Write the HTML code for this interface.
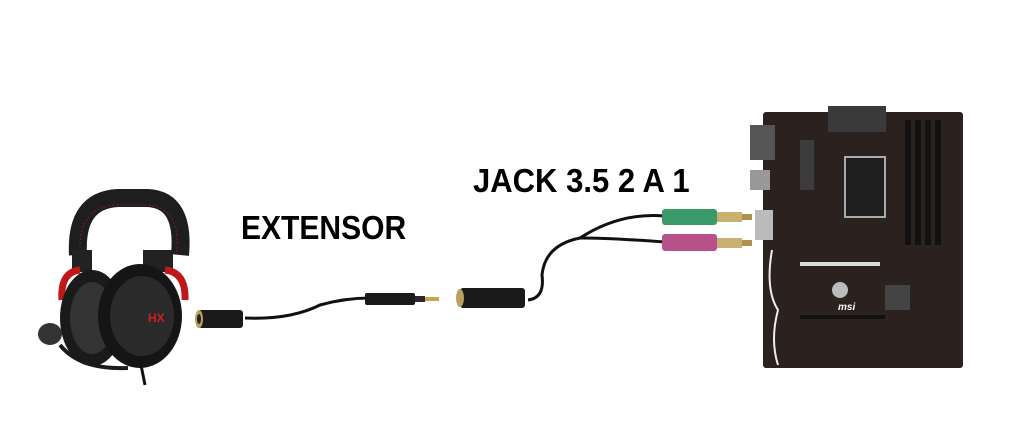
<!DOCTYPE html>
<html><head><style>
html,body{margin:0;padding:0;background:#fff;}
body{width:1012px;height:430px;overflow:hidden;position:relative;}
.t{position:absolute;font-family:"Liberation Sans",sans-serif;font-weight:bold;color:#000;transform-origin:left top;white-space:nowrap;}
</style></head><body>
<svg width="1012" height="430" style="position:absolute;left:0;top:0">
<!-- headphones -->
<g>
<path d="M78 255 Q75 200 118 198 L148 198 Q185 200 180 255" fill="none" stroke="#1e1e1e" stroke-width="18"/>
<path d="M80 252 Q78 206 118 205 L148 205 Q180 207 177 252" fill="none" stroke="#8b1a1a" stroke-width="1" stroke-dasharray="2 2"/>
<rect x="72" y="250" width="20" height="22" fill="#222"/>
<rect x="143" y="250" width="30" height="22" fill="#222"/>
<path d="M62 300 Q60 272 80 270" fill="none" stroke="#c01818" stroke-width="7"/>
<path d="M185 300 Q186 272 165 270" fill="none" stroke="#c01818" stroke-width="7"/>
<ellipse cx="92" cy="318" rx="32" ry="48" fill="#1a1a1a"/>
<ellipse cx="92" cy="318" rx="22" ry="36" fill="#333"/>
<ellipse cx="140" cy="316" rx="42" ry="52" fill="#151515"/>
<ellipse cx="142" cy="316" rx="32" ry="40" fill="#2a2a2a"/>
<text x="148" y="322" font-family="Liberation Sans,sans-serif" font-size="12" font-weight="bold" fill="#d02020">HX</text>
<path d="M60 345 Q80 370 128 368" fill="none" stroke="#1a1a1a" stroke-width="4"/>
<ellipse cx="50" cy="334" rx="12" ry="11" fill="#333"/>
<path d="M140 360 L145 385" stroke="#111" stroke-width="3"/>
</g>
<!-- extension cable -->
<path d="M245 318 Q290 320 320 305 Q345 298 370 298" fill="none" stroke="#111" stroke-width="3"/>
<rect x="198" y="310" width="45" height="18" rx="3" fill="#1a1a1a"/>
<ellipse cx="199" cy="319" rx="4" ry="9" fill="#b8a060"/>
<ellipse cx="199" cy="319" rx="2" ry="5" fill="#222"/>
<rect x="365" y="293" width="50" height="12" rx="2" fill="#1a1a1a"/>
<rect x="415" y="296" width="10" height="6" fill="#2a2a2a"/>
<rect x="425" y="297" width="14" height="4" fill="#c8a848"/>
<!-- adapter -->
<path d="M528 300 Q545 298 542 275 Q545 245 580 238 Q620 212 665 216" fill="none" stroke="#111" stroke-width="3"/>
<path d="M580 238 Q610 238 665 242" fill="none" stroke="#111" stroke-width="3"/>
<rect x="460" y="288" width="65" height="20" rx="3" fill="#1a1a1a"/>
<ellipse cx="460" cy="298" rx="4" ry="9" fill="#b8a060"/>
<rect x="662" y="209" width="55" height="16" rx="3" fill="#3a9a6a"/>
<rect x="717" y="212" width="25" height="10" fill="#c8b070"/>
<rect x="742" y="214" width="10" height="6" fill="#b09050"/>
<rect x="662" y="234" width="55" height="17" rx="3" fill="#b8508a"/>
<rect x="717" y="238" width="25" height="10" fill="#c8b070"/>
<rect x="742" y="240" width="10" height="6" fill="#b09050"/>
<!-- motherboard -->
<rect x="763" y="112" width="200" height="256" rx="3" fill="#2b2220"/>
<rect x="828" y="106" width="58" height="26" fill="#3a3a3a"/>
<rect x="750" y="125" width="25" height="35" fill="#555"/>
<rect x="750" y="170" width="20" height="20" fill="#999"/>
<rect x="755" y="210" width="18" height="30" fill="#bbb"/>
<rect x="800" y="140" width="14" height="50" fill="#3c3c3c"/>
<rect x="845" y="157" width="40" height="60" fill="#1e1e1e" stroke="#aaa" stroke-width="2"/>
<rect x="905" y="120" width="6" height="125" fill="#111"/>
<rect x="915" y="120" width="6" height="125" fill="#111"/>
<rect x="925" y="120" width="6" height="125" fill="#111"/>
<rect x="935" y="120" width="6" height="125" fill="#111"/>
<rect x="800" y="262" width="80" height="4" fill="#ddd"/>
<rect x="800" y="315" width="85" height="4" fill="#111"/>
<circle cx="840" cy="290" r="8" fill="#bbb"/>
<rect x="885" y="285" width="25" height="25" fill="#444"/>
<text x="838" y="310" font-family="Liberation Sans,sans-serif" font-size="10" font-weight="bold" font-style="italic" fill="#fff">msi</text>
<path d="M772 250 Q765 290 778 310 Q770 340 778 365" fill="none" stroke="#eee" stroke-width="2"/>
</svg>
<div class="t" style="left:241px;top:209px;font-size:33px;transform:scaleX(0.91);">EXTENSOR</div>
<div class="t" style="left:473px;top:162px;font-size:33px;transform:scaleX(0.94);">JACK 3.5 2 A 1</div>
</body></html>
